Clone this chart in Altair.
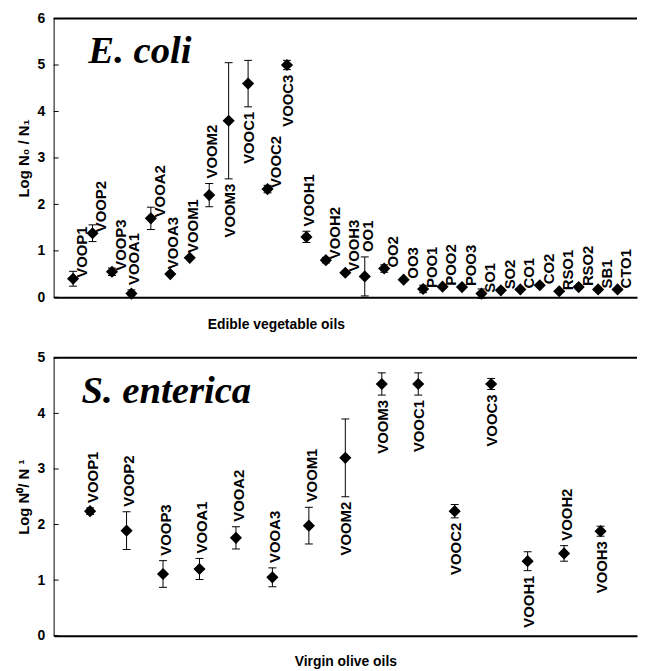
import altair as alt
import pandas as pd

# ---- E. coli panel (edible vegetable oils) ----
ecoli_names = ["VOOP1", "VOOP2", "VOOP3", "VOOA1", "VOOA2", "VOOA3", "VOOM1", "VOOM2",
               "VOOM3", "VOOC1", "VOOC2", "VOOC3", "VOOH1", "VOOH2", "VOOH3", "OO1", "OO2",
               "OO3", "POO1", "POO2", "POO3", "SO1", "SO2", "CO1", "CO2", "RSO1", "RSO2",
               "SB1", "CTO1"]
ecoli_values = [0.40, 1.38, 0.55, 0.08, 1.70, 0.50, 0.85, 2.20, 3.80, 4.60, 2.33, 5.00,
                1.30, 0.80, 0.53, 0.45, 0.62, 0.38, 0.18, 0.23, 0.22, 0.08, 0.15, 0.17,
                0.26, 0.13, 0.22, 0.17, 0.17]
ecoli_sd = [0.16, 0.18, 0.08, 0.08, 0.24, 0.0, 0.0, 0.25, 1.25, 0.50, 0.08, 0.10,
            0.12, 0.06, 0.0, 0.42, 0.08, 0.0, 0.08, 0.0, 0.0, 0.10, 0.0, 0.0,
            0.0, 0.0, 0.0, 0.0, 0.0]
ecoli_label_side = ["r", "r", "r", "a", "r", "a", "a", "a", "b", "b", "r", "b",
                    "a", "r", "r", "a", "r", "r", "r", "r", "r", "r", "r", "r",
                    "r", "r", "r", "r", "r"]
ecoli_yticks = [0, 1, 2, 3, 4, 5, 6]

# ---- S. enterica panel (virgin olive oils) ----
sent_names = ["VOOP1", "VOOP2", "VOOP3", "VOOA1", "VOOA2", "VOOA3", "VOOM1", "VOOM2",
              "VOOM3", "VOOC1", "VOOC2", "VOOC3", "VOOH1", "VOOH2", "VOOH3"]
sent_values = [2.24, 1.89, 1.11, 1.20, 1.76, 1.05, 1.98, 3.20, 4.53, 4.53, 2.24, 4.53,
               1.34, 1.48, 1.88]
sent_sd = [0.06, 0.34, 0.24, 0.19, 0.20, 0.17, 0.33, 0.70, 0.20, 0.20, 0.12, 0.10,
           0.17, 0.14, 0.09]
sent_label_side = ["a", "a", "a", "a", "a", "a", "a", "b", "b", "b", "b", "b",
                   "b", "a", "b"]
sent_yticks = [0, 1, 2, 3, 4, 5]

FONT = "Liberation Sans, Arial, sans-serif"
SERIF = "Liberation Serif, Times New Roman, serif"


def panel(names, values, sd, sides, yticks, ytitle, xtitle, organism, height,
          title_x, org_x, title_pad):
    df = pd.DataFrame({"name": names, "value": values, "sd": sd, "side": sides})
    df["idx"] = list(range(1, len(df) + 1))
    df["lo"] = df["value"] - df["sd"]
    df["hi"] = df["value"] + df["sd"]
    n = len(df)

    xscale = alt.Scale(domain=[0, n + 1], nice=False, zero=False)
    yscale = alt.Scale(domain=[0, max(yticks)], nice=False)
    xaxis_kw = dict(title=xtitle, labels=False, ticks=False, grid=False,
                    domainWidth=2, domainColor="black", titlePadding=title_pad)
    if title_x is not None:
        xaxis_kw["titleX"] = title_x
    xaxis = alt.Axis(**xaxis_kw)
    yaxis = alt.Axis(title=ytitle, values=yticks, ticks=False, grid=False,
                     labelPadding=9, titlePadding=6, domainWidth=1, titleFontSize=15,
                     domainColor="black", format="d")

    X = alt.X("idx:Q", scale=xscale, axis=xaxis)
    base = alt.Chart(df)

    err = base.transform_filter("datum.sd > 0")
    bars = err.mark_rule(color="black", strokeWidth=1).encode(
        x=X, y=alt.Y("lo:Q", scale=yscale, axis=yaxis), y2="hi:Q")
    cap_lo = err.mark_tick(color="black", thickness=1, size=8, orient="horizontal",
                           opacity=1).encode(x=X, y=alt.Y("lo:Q", scale=yscale, axis=yaxis))
    cap_hi = err.mark_tick(color="black", thickness=1, size=8, orient="horizontal",
                           opacity=1).encode(x=X, y=alt.Y("hi:Q", scale=yscale, axis=yaxis))

    pts = base.mark_point(shape="diamond", filled=True, color="black", size=150,
                          opacity=1).encode(x=X, y=alt.Y("value:Q", scale=yscale, axis=yaxis))

    txt = dict(angle=270, baseline="middle", font=FONT, fontWeight="bold",
               fontSize=15, color="black")
    lab_r = base.transform_filter("datum.side == 'r'").mark_text(
        align="left", dx=1, dy=9, **txt).encode(
        x=X, y=alt.Y("value:Q", scale=yscale, axis=yaxis), text="name:N")
    lab_a = base.transform_filter("datum.side == 'a'").mark_text(
        align="left", dx=5, dy=3, **txt).encode(
        x=X, y=alt.Y("hi:Q", scale=yscale, axis=yaxis), text="name:N")
    lab_b = base.transform_filter("datum.side == 'b'").mark_text(
        align="right", dx=-5, dy=1, **txt).encode(
        x=X, y=alt.Y("lo:Q", scale=yscale, axis=yaxis), text="name:N")

    ticks = alt.Chart(pd.DataFrame({"value": yticks})).mark_rule(
        color="black", strokeWidth=1).encode(
        y=alt.Y("value:Q", scale=yscale, axis=yaxis), x=alt.value(0), x2=alt.value(5))

    top = alt.Chart(pd.DataFrame({"a": [0]})).mark_rule(
        color="black", strokeWidth=2).encode(y=alt.value(0))

    org = alt.Chart(pd.DataFrame({"t": [organism]})).mark_text(
        font=SERIF, fontStyle="italic", fontWeight="bold", fontSize=39,
        align="left", baseline="alphabetic", color="black").encode(
        text="t:N", x=alt.value(org_x), y=alt.value(45))

    return alt.layer(top, ticks, bars, cap_lo, cap_hi, pts, lab_r, lab_a, lab_b, org).properties(
        width=588, height=height)


top_panel = panel(ecoli_names, ecoli_values, ecoli_sd, ecoli_label_side, ecoli_yticks,
                  "Log N\u2080 / N\u2081", "Edible vegetable oils", "E. coli", 281, 224, 35, 20)
bottom_panel = panel(sent_names, sent_values, sent_sd, sent_label_side, sent_yticks,
                     "Log N\u2070/ N \u00b9", "Virgin olive oils", "S. enterica", 280, None, 28, 19)

chart = alt.vconcat(top_panel, bottom_panel, spacing=20).properties(
    padding={"left": 8, "top": 1, "right": 0, "bottom": 0},
    background="white"
).configure_view(stroke=None).configure_axis(
    labelFont=FONT, labelFontWeight="bold", labelFontSize=14, labelColor="black",
    titleFont=FONT, titleFontWeight="bold", titleFontSize=14, titleColor="black"
)

chart.save("out.html", embed_options={"renderer": "svg", "actions": False})
